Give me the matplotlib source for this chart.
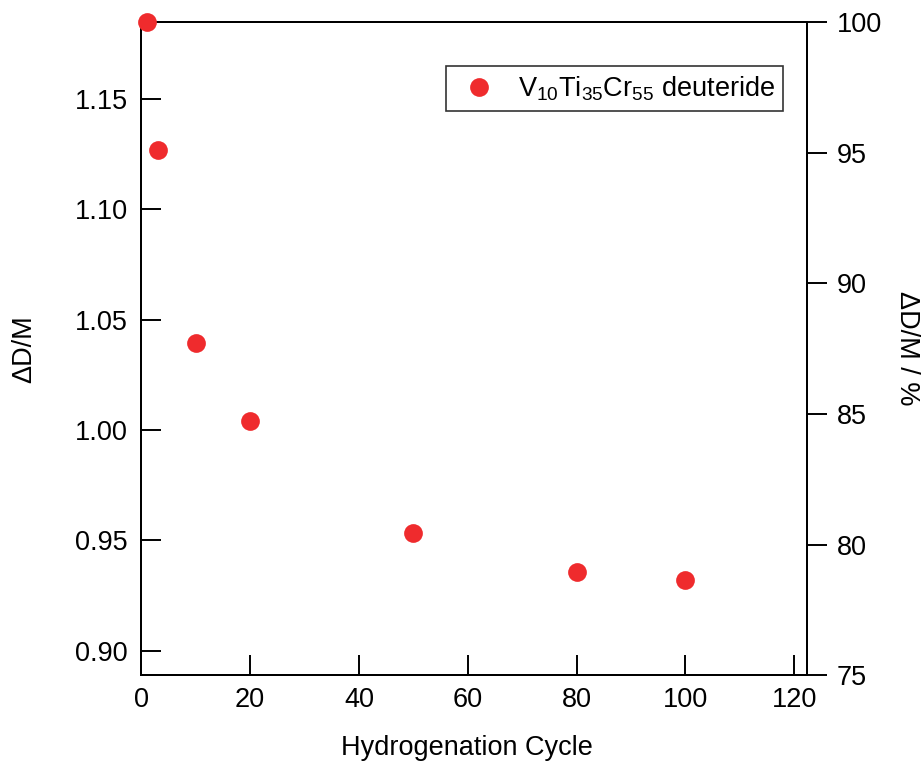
import matplotlib
matplotlib.use('Agg')
import matplotlib.pyplot as plt

plt.rcParams['font.family'] = ['Liberation Sans', 'DejaVu Sans']
plt.rcParams['mathtext.fontset'] = 'custom'
plt.rcParams['mathtext.rm'] = 'Liberation Sans'
plt.rcParams['mathtext.it'] = 'Liberation Sans:italic'
plt.rcParams['mathtext.bf'] = 'Liberation Sans:bold'

# data
cycles = [1, 3, 10, 20, 50, 80, 100]
dm = [1.185, 1.1271, 1.0394, 1.0042, 0.9535, 0.9355, 0.9321]
series_label = r'V$_\mathregular{10}$Ti$_\mathregular{35}$Cr$_\mathregular{55}$ deuteride'
x_ticks = [0, 20, 40, 60, 80, 100, 120]
left_ticks = [0.90, 0.95, 1.00, 1.05, 1.10, 1.15]
right_ticks = [75, 80, 85, 90, 95, 100]

fs = 19.5
red = '#EF2B2D'

fig = plt.figure(figsize=(9.24, 7.71), dpi=100)
ax = fig.add_axes([0.1529, 0.1241, 0.7202, 0.8474])
ax2 = ax.twinx()

# keep the points above the twin axis spines
ax.set_zorder(ax2.get_zorder() + 1)
ax.patch.set_visible(False)

ax.plot(cycles, dm, 'o', color=red, markersize=13.5, markeredgewidth=0,
        label=series_label, clip_on=False, zorder=5)

ax.set_xlim(0, 122.3)
ax.set_ylim(0.75 * dm[0], dm[0])
ax2.set_ylim(75, 100)

ax.set_xticks(x_ticks)
ax.set_yticks(left_ticks)
ax.set_yticklabels(['%.2f' % v for v in left_ticks])
ax2.set_yticks(right_ticks)

ax.tick_params(axis='x', direction='in', length=14.5, width=1.4,
               labelsize=fs, pad=8.5, top=False)
ax.tick_params(axis='y', direction='in', length=14.5, width=1.4,
               labelsize=fs, pad=9.5, right=False)
ax2.tick_params(axis='y', direction='out', length=14.5, width=1.4,
                labelsize=fs, pad=7)

for a in (ax, ax2):
    for s in a.spines.values():
        s.set_linewidth(1.4)

ax.set_xlabel('Hydrogenation Cycle', fontsize=fs)
ax.xaxis.set_label_coords(0.490, -0.111)
ax.xaxis.label.set_va('center')

ax.set_ylabel('ΔD/M', fontsize=fs)
ax.yaxis.set_label_coords(-0.176, 0.5)
ax.yaxis.label.set_va('center')

ax2.set_ylabel('ΔD/M / %', fontsize=fs, rotation=270)
ax2.yaxis.set_label_coords(1.151, 0.5)
ax2.yaxis.label.set_va('center')

leg = ax.legend(loc='upper right', bbox_to_anchor=(0.9644, 0.9326),
                borderaxespad=0, fontsize=fs, frameon=True, fancybox=False,
                handlelength=1.8, handletextpad=0.55, borderpad=0.3,
                numpoints=1)
leg.get_frame().set_edgecolor('black')
leg.get_frame().set_linewidth(1.2)

fig.savefig('out.png', dpi=100)
